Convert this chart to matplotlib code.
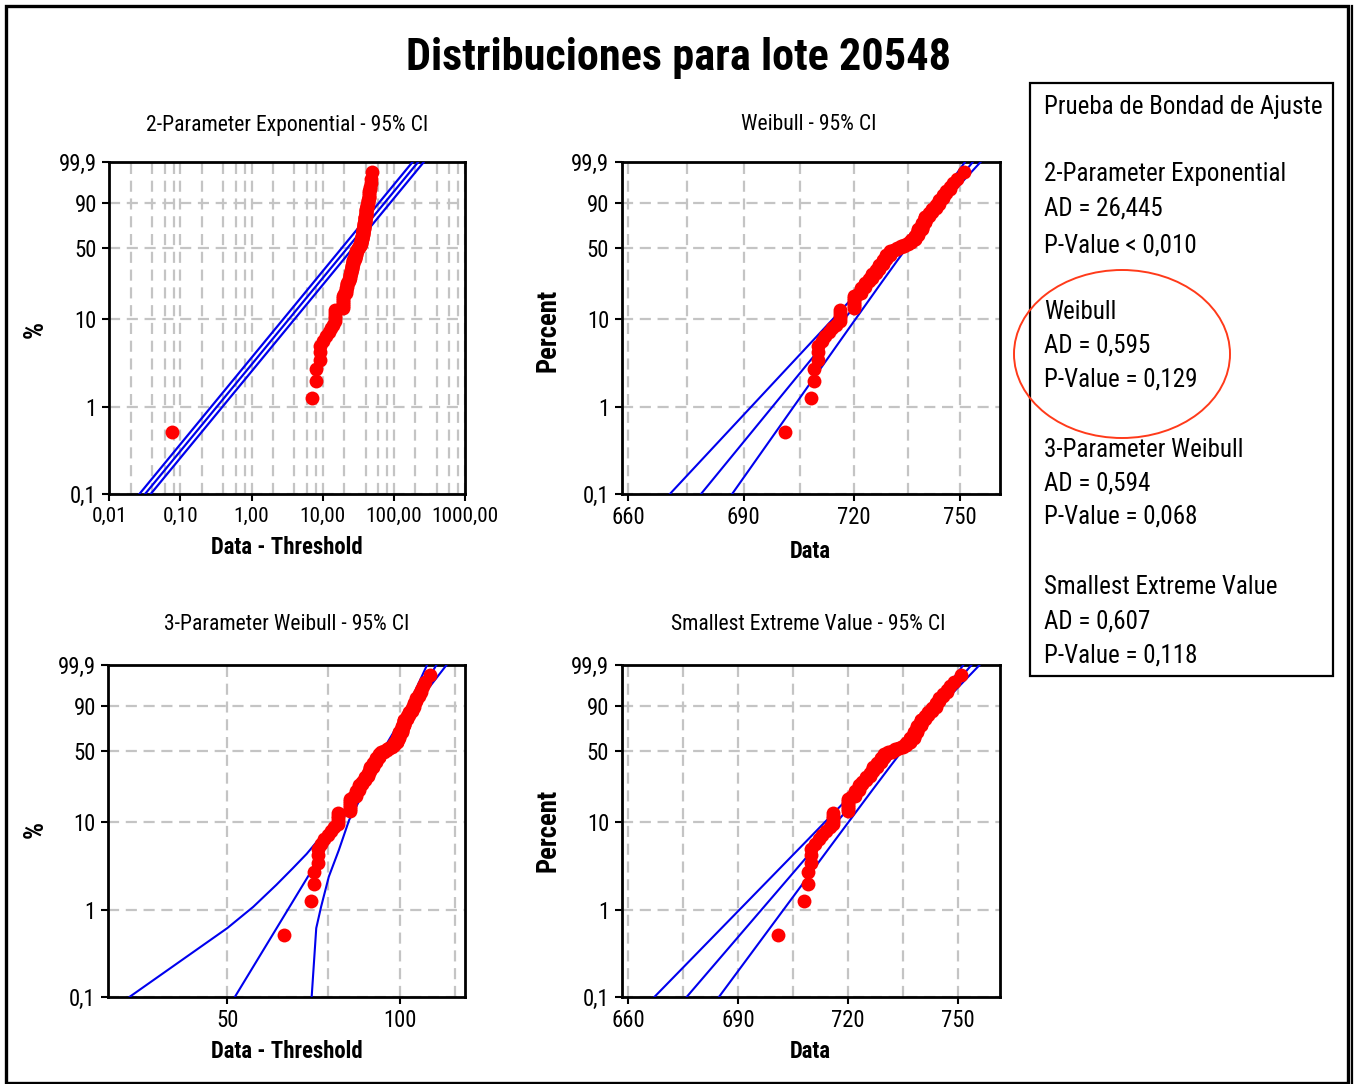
import numpy as np
import matplotlib
matplotlib.use('Agg')
import matplotlib.pyplot as plt
from matplotlib.patches import Ellipse, Rectangle
from matplotlib.lines import Line2D
from matplotlib.ticker import FixedLocator, NullLocator, NullFormatter
from matplotlib import font_manager

# ---------------- data ----------------
data_values = [701, 708, 709, 710, 711, 712, 713, 714, 715, 716,
               720, 721, 722, 723, 724, 725, 726, 727, 728, 729, 730,
               731, 732, 733, 734, 735, 736,
               737, 738, 739, 740, 741, 742, 743, 744, 745, 746, 747, 748, 749, 751]
data_counts = [1, 1, 2, 3, 1, 1, 1, 1, 1, 5,
               7, 1, 4, 4, 3, 4, 4, 5, 5, 5, 5,
               2, 2, 2, 2, 2, 4,
               6, 8, 8, 8, 4, 4, 4, 4, 3, 2, 2, 1, 1, 1]

pct_ticks = [0.1, 1, 10, 50, 90, 99.9]
pct_labels = ["0,1", "1", "10", "50", "90", "99,9"]

# 2-parameter exponential fit
exp2_threshold = 700.925
exp2_scale = 31.8
exp2_ci_factor = 1.2
exp2_xticks = [0.01, 0.1, 1, 10, 100, 1000]
exp2_xlabels = ["0,01", "0,10", "1,00", "10,00", "100,00", "1000,00"]
exp2_minor_mult = [2, 4, 6, 8]

# Weibull fit
wb_shape = 84.4
wb_scale = 736.6
wb_ci = (0.0012, 0.00166, 0.275)   # half-width in ln(x): centre, slope, centre-W
wb_xticks = [660, 690, 720, 750]
wb_xminor = [675, 705, 735]

# 3-parameter Weibull fit
w3_threshold = 638.1
w3_shape = 10.92
w3_scale = 97.1
w3_lo_pct = [0.1, 0.62, 1.09, 1.95, 3.0, 4.4, 8.2, 11.4, 30, 50, 75, 90, 97, 99.9]
w3_lo_x = [33.8, 50.0, 55.5, 60.9, 65.0, 68.8, 74.6, 78.6, 87.5, 93.2, 99.2, 103.3, 106.5, 111.6]
w3_hi_pct = [0.1, 0.62, 1.09, 2.42, 4.86, 10.5, 14.7, 30, 50, 75, 90, 97, 99.9]
w3_hi_x = [70.2, 71.5, 72.9, 75.2, 78.3, 81.6, 84.0, 89.3, 94.6, 101.0, 106.3, 111.5, 120.7]
w3_xticks = [50, 100]
w3_xminor = [75, 125]

# Smallest extreme value fit
sev_loc = 736.8
sev_scale = 8.80
sev_ci = (0.9, 1.22, 0.275)
sev_xticks = [660, 690, 720, 750]
sev_xminor = [675, 705, 735]

legend_lines = [
    ("Prueba de Bondad de Ajuste", 107),
    ("2-Parameter Exponential", 174),
    ("AD = 26,445", 208),
    ("P-Value < 0,010", 245),
    ("Weibull", 312),
    ("AD = 0,595", 346),
    ("P-Value = 0,129", 380),
    ("3-Parameter Weibull", 450),
    ("AD = 0,594", 483),
    ("P-Value = 0,068", 517),
    ("Smallest Extreme Value", 587),
    ("AD = 0,607", 621),
    ("P-Value = 0,118", 655),
]

# ---------------- fonts: prefer a narrow sans ----------------
ttf = font_manager.fontManager.ttflist
names = {f.name for f in ttf}
FONT, STRETCH = 'Liberation Sans', 'normal'
for cand in ['Liberation Sans Narrow', 'Roboto Condensed', 'Open Sans Condensed',
             'Noto Sans Condensed', 'DejaVu Sans Condensed']:
    if cand in names:
        FONT = cand
        break
else:
    if any(f.name == 'DejaVu Sans' and str(f.stretch) in ('condensed', 'semi-condensed')
           for f in ttf):
        FONT, STRETCH = 'DejaVu Sans', 'condensed'

plt.rcParams['font.family'] = [FONT, 'DejaVu Sans']
plt.rcParams['font.stretch'] = STRETCH

W, H = 1356, 1084
fig = plt.figure(figsize=(W / 100, H / 100), dpi=100)
fig.patch.set_facecolor('white')
renderer = fig.canvas.get_renderer()


def fx(px):
    return px / W


def fy(py):
    return 1 - py / H


def fit_size(s, target_px, **kw):
    t = fig.text(0, 0, s, fontsize=20, **kw)
    w = t.get_window_extent(renderer).width
    t.remove()
    return 20.0 * target_px / w


def pct_fwd(p):
    p = np.clip(np.asarray(p, dtype=float), 1e-9, 100 - 1e-9)
    return np.log(-np.log(1 - p / 100.0))


def pct_inv(w):
    w = np.asarray(w, dtype=float)
    return 100.0 * (1 - np.exp(-np.exp(w)))


TICK_FS = fit_size("99,9", 38)
TITLE_FS = fit_size("2-Parameter Exponential - 95% CI", 282)
LABEL_FS = fit_size("Data - Threshold", 152, fontweight='bold')
YLAB_FS = fit_size("Percent", 83, fontweight='bold')
BIG_FS = fit_size("Distribuciones para lote 20548", 544, fontweight='bold')
LEG_FS = fit_size("Prueba de Bondad de Ajuste", 278)

data = np.repeat(np.array(data_values, float), data_counts)
n = len(data)
ranks = np.arange(1, n + 1)
plot_pct = (ranks - 0.3) / (n + 0.4) * 100

wgrid = np.linspace(pct_fwd(0.05), pct_fwd(99.97), 300)
pgrid = pct_inv(wgrid)

GRID = dict(color='#C4C4C4', lw=1.6, ls=(0, (5, 3)))
BLUE = '#0000EE'


def setup(ax, xlim, major, labels, minor, xfs=None):
    ax.set_yscale('function', functions=(pct_fwd, pct_inv))
    ax.set_ylim(0.1, 99.9)
    ax.yaxis.set_major_locator(FixedLocator(pct_ticks))
    ax.set_yticklabels(pct_labels)
    ax.yaxis.set_minor_locator(NullLocator())
    ax.set_xlim(*xlim)
    ax.xaxis.set_major_locator(FixedLocator(major))
    ax.set_xticklabels(labels)
    ax.xaxis.set_minor_locator(FixedLocator(minor))
    ax.xaxis.set_minor_formatter(NullFormatter())
    ax.grid(True, which='both', axis='x', **GRID)
    ax.grid(True, which='major', axis='y', **GRID)
    ax.set_axisbelow(True)
    for s in ax.spines.values():
        s.set_linewidth(2.0)
        s.set_color('black')
    ax.tick_params(axis='both', which='major', direction='out', length=5, width=1.5,
                   labelsize=TICK_FS, pad=4, colors='black')
    if xfs is not None:
        ax.tick_params(axis='x', which='major', labelsize=xfs)
    ax.tick_params(axis='x', which='minor', length=0)


def dots(ax, x):
    ax.plot(x, plot_pct, 'o', color='#FF0000', ms=10.0, mec='none', zorder=5, clip_on=False)


# Panel 1: 2-parameter exponential
ax1 = fig.add_axes([fx(109.3), fy(494), fx(465 - 109.3), (494 - 162) / H])
ax1.set_xscale('log')
minor1 = [m * 10.0 ** e for e in range(-2, 3) for m in exp2_minor_mult]
setup(ax1, (0.01, 1000), exp2_xticks, exp2_xlabels, minor1, xfs=TICK_FS * 0.93)
x_fit = exp2_scale * np.exp(wgrid)
for fac in (1 / exp2_ci_factor, 1.0, exp2_ci_factor):
    ax1.plot(x_fit * fac, pgrid, color=BLUE, lw=1.6, zorder=3)
dots(ax1, data - exp2_threshold)

# Panel 2: Weibull
ax2 = fig.add_axes([fx(621.7), fy(494), fx(1000 - 621.7), (494 - 162) / H])
ax2.set_xscale('log')
setup(ax2, (658.3, 761.6), wb_xticks, [str(v) for v in wb_xticks], wb_xminor)
x_fit = wb_scale * np.exp(wgrid / wb_shape)
hw = np.sqrt(wb_ci[0] ** 2 + wb_ci[1] ** 2 * (wgrid - wb_ci[2]) ** 2)
for k in (-1, 0, 1):
    ax2.plot(x_fit * np.exp(k * hw), pgrid, color=BLUE, lw=1.5, zorder=3)
dots(ax2, data)

# Panel 3: 3-parameter Weibull
ax3 = fig.add_axes([fx(108.3), fy(996.7), fx(465 - 108.3), (996.7 - 665) / H])
ax3.set_xscale('log')
setup(ax3, (31, 130), w3_xticks, [str(v) for v in w3_xticks], w3_xminor)
x_fit = w3_scale * np.exp(wgrid / w3_shape)
ax3.plot(x_fit, pgrid, color=BLUE, lw=1.5, zorder=3)
ax3.plot(w3_lo_x, w3_lo_pct, color=BLUE, lw=1.5, zorder=3)
ax3.plot(w3_hi_x, w3_hi_pct, color=BLUE, lw=1.5, zorder=3)
dots(ax3, data - w3_threshold)

# Panel 4: Smallest extreme value
ax4 = fig.add_axes([fx(621.7), fy(996.7), fx(1000 - 621.7), (996.7 - 665) / H])
setup(ax4, (658.2, 761.6), sev_xticks, [str(v) for v in sev_xticks], sev_xminor)
x_fit = sev_loc + sev_scale * wgrid
hw = np.sqrt(sev_ci[0] ** 2 + sev_ci[1] ** 2 * (wgrid - sev_ci[2]) ** 2)
for k in (-1, 0, 1):
    ax4.plot(x_fit + k * hw, pgrid, color=BLUE, lw=1.5, zorder=3)
dots(ax4, data)

# ---------------- texts ----------------
fig.text(fx(678), fy(58), "Distribuciones para lote 20548", ha='center', va='center',
         fontsize=BIG_FS, fontweight='bold')

titles = [("2-Parameter Exponential - 95% CI", 287, 125),
          ("Weibull - 95% CI", 809, 125),
          ("3-Parameter Weibull - 95% CI", 287, 625),
          ("Smallest Extreme Value - 95% CI", 808, 625)]
for t, x, y in titles:
    fig.text(fx(x), fy(y), t, ha='center', va='center', fontsize=TITLE_FS)

xlabels = [("Data - Threshold", 287, 548), ("Data", 810, 552),
           ("Data - Threshold", 287, 1052), ("Data", 810, 1052)]
for t, x, y in xlabels:
    fig.text(fx(x), fy(y), t, ha='center', va='center', fontsize=LABEL_FS, fontweight='bold')

ylabels = [("%", 35, 330), ("Percent", 548, 330), ("%", 35, 830), ("Percent", 548, 830)]
for t, x, y in ylabels:
    fig.text(fx(x), fy(y), t, ha='center', va='center', fontsize=YLAB_FS,
             fontweight='bold', rotation=90)

# legend box
fig.patches.append(Rectangle((fx(1030), fy(676)), fx(1333 - 1030), (676 - 83) / H,
                             transform=fig.transFigure, fill=False, ec='black', lw=1.6))
for t, y in legend_lines:
    fig.text(fx(1044), fy(y), t, ha='left', va='center', fontsize=LEG_FS)

fig.patches.append(Ellipse((fx(1122), fy(354)), fx(216), 168 / H, transform=fig.transFigure,
                           fill=False, ec='#FF3A1A', lw=1.4))

# outer frame
fig.patches.append(Rectangle((fx(5.5), fy(1082.5)), fx(1347.5 - 5.5), (1082.5 - 5.5) / H,
                             transform=fig.transFigure, fill=False, ec='black', lw=2.4))
fig.lines.append(Line2D([fx(1351.5), fx(1351.5)], [fy(5.5), fy(1082.5)],
                        transform=fig.transFigure, color='black', lw=1.6))

fig.savefig('out.png', dpi=100, facecolor='white')
